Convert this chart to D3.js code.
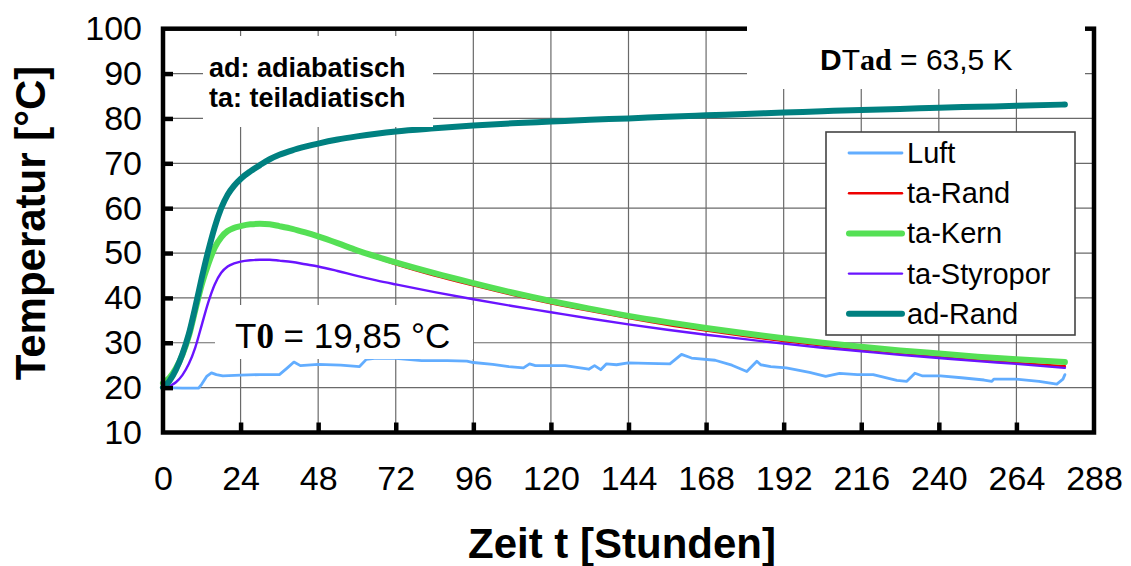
<!DOCTYPE html>
<html>
<head>
<meta charset="utf-8">
<script src="https://cdn.jsdelivr.net/npm/d3@7"></script>
<style>
  body { margin: 0; background: #fff; }
  svg { display: block; }
  text { font-family: "Liberation Sans", Arial, sans-serif; fill: #000; }
</style>
</head>
<body>
<svg id="chart" width="1131" height="566"></svg>
<script>
// Time axis of the smooth concrete-temperature curves (hours)
const hours = [0, 2, 4, 6, 8, 10, 12, 14, 16, 18, 20, 22, 24, 27, 30, 33, 36, 40, 44, 48,
  54, 60, 66, 72, 84, 96, 108, 120, 132, 144, 156, 168, 180, 192, 204, 216, 228, 240, 252, 264, 279];

// ad-Rand: adiabatic specimen, edge
const adRand = [20.0, 21.5, 24.0, 27.5, 32.0, 38.0, 44.5, 50.5, 55.8, 60.0, 63.0, 65.0, 66.5, 68.2, 69.6, 70.9, 71.9, 72.9, 73.7, 74.4,
  75.3, 76.0, 76.6, 77.1, 77.8, 78.4, 78.9, 79.3, 79.7, 80.0, 80.4, 80.7, 81.0, 81.3, 81.6, 81.9, 82.1, 82.4, 82.6, 82.8, 83.1];

// ta-Rand: semi-adiabatic specimen, edge
const taRand = [20.5, 21.8, 24.0, 27.0, 31.2, 37.0, 42.8, 47.3, 51.0, 53.4, 54.8, 55.5, 55.9, 56.3, 56.4, 56.3, 55.9, 55.2, 54.4, 53.5,
  52.0, 50.4, 48.9, 47.5, 45.0, 42.8, 40.7, 38.8, 37.1, 35.5, 34.0, 32.7, 31.5, 30.4, 29.4, 28.5, 27.7, 26.9, 26.2, 25.5, 24.8];

// ta-Kern: semi-adiabatic specimen, core
const taKern = [21.0, 22.2, 24.3, 27.3, 31.5, 37.3, 43.0, 47.5, 51.2, 53.5, 54.9, 55.6, 56.0, 56.4, 56.5, 56.4, 56.0, 55.4, 54.6, 53.7,
  52.2, 50.6, 49.2, 47.9, 45.5, 43.3, 41.2, 39.3, 37.6, 36.0, 34.6, 33.3, 32.1, 31.0, 30.0, 29.1, 28.3, 27.6, 26.9, 26.3, 25.7];

// ta-Styropor: semi-adiabatic specimen, polystyrene insulated
const taStyropor = [19.5, 20.3, 21.2, 22.8, 25.3, 29.0, 34.0, 39.0, 43.0, 45.6, 47.0, 47.7, 48.1, 48.4, 48.5, 48.5, 48.3, 48.0, 47.5, 47.0,
  46.0, 44.9, 43.9, 43.0, 41.3, 39.7, 38.2, 36.8, 35.4, 34.1, 32.9, 31.8, 30.8, 29.8, 28.9, 28.1, 27.3, 26.6, 25.9, 25.3, 24.4];

// Luft: ambient air temperature (own time stamps)
const luftHours = [0, 6, 11, 12, 13.5, 15, 16.5, 18.5, 24, 30, 36, 38.3, 40.5, 42.5, 48, 55, 60.8, 62.9, 66, 72,
  80, 88, 94, 96, 102, 107, 111.5, 113.4, 115.2, 124.4, 131.7, 133.5, 135.4, 137.2, 140.3, 143.9, 150, 156.8, 160.4, 163.5,
  170.8, 176, 180.6, 183.7, 184.9, 188, 192.8, 200, 205, 209.3, 214.8, 219.7, 227, 230.1, 232.6, 235, 240.5, 247, 254, 256.4,
  257, 263.7, 271, 276.5, 278.4, 279];
const luft = [20.0, 19.9, 19.9, 20.8, 22.5, 23.3, 22.9, 22.6, 22.8, 22.9, 22.9, 24.3, 25.7, 24.9, 25.2, 25.0, 24.7, 26.3, 26.6, 26.5,
  26.0, 26.0, 25.9, 25.6, 25.2, 24.7, 24.4, 25.3, 24.9, 24.9, 24.1, 24.9, 24.0, 25.3, 25.1, 25.5, 25.4, 25.3, 27.4, 26.6,
  26.1, 25.0, 23.6, 25.9, 25.1, 24.7, 24.4, 23.4, 22.5, 23.2, 22.9, 22.9, 21.6, 21.4, 23.2, 22.6, 22.6, 22.2, 21.7, 21.4,
  21.9, 21.9, 21.4, 20.8, 21.9, 22.9];

// Axis ticks
const xTicks = [0, 24, 48, 72, 96, 120, 144, 168, 192, 216, 240, 264, 288];
const yTicks = [10, 20, 30, 40, 50, 60, 70, 80, 90, 100];

// Legend order and styling
const seriesNames  = ["Luft", "ta-Rand", "ta-Kern", "ta-Styropor", "ad-Rand"];
const seriesColors = ["#62adff", "#ee0000", "#55e055", "#6a14ff", "#008080"];
const seriesWidths = [2.8, 2.4, 6, 2.4, 6];

const series = [
  { name: seriesNames[0], pts: luftHours.map((h, i) => [h, luft[i]]), smooth: false },
  { name: seriesNames[1], pts: hours.map((h, i) => [h, taRand[i]]), smooth: true },
  { name: seriesNames[2], pts: hours.map((h, i) => [h, taKern[i]]), smooth: true },
  { name: seriesNames[3], pts: hours.map((h, i) => [h, taStyropor[i]]), smooth: true },
  { name: seriesNames[4], pts: hours.map((h, i) => [h, adRand[i]]), smooth: true }
];

const svg = d3.select("#chart");
const x = d3.scaleLinear().domain([0, 288]).range([163, 1094]);
const y = d3.scaleLinear().domain([10, 100]).range([432.5, 28.7]);

// Grid
const grid = svg.append("g").attr("stroke", "#6a6a6a").attr("stroke-width", 1.2);
grid.selectAll(".gy").data(yTicks.slice(1, -1)).join("line")
  .attr("x1", x(0)).attr("x2", x(288)).attr("y1", d => y(d)).attr("y2", d => y(d));
grid.selectAll(".gx").data(xTicks.slice(1, -1)).join("line")
  .attr("y1", y(10)).attr("y2", y(100)).attr("x1", d => x(d)).attr("x2", d => x(d));

// Curves
const lineSmooth = d3.line().x(d => x(d[0])).y(d => y(d[1])).curve(d3.curveMonotoneX);
const lineRaw = d3.line().x(d => x(d[0])).y(d => y(d[1]));
series.forEach((s, i) => {
  svg.append("path")
    .attr("d", (s.smooth ? lineSmooth : lineRaw)(s.pts))
    .attr("fill", "none")
    .attr("stroke", seriesColors[i])
    .attr("stroke-width", seriesWidths[i])
    .attr("stroke-linejoin", "round")
    .attr("stroke-linecap", "round");
});

// Frame
svg.append("rect")
  .attr("x", x(0)).attr("y", y(100))
  .attr("width", x(288) - x(0)).attr("height", y(10) - y(100))
  .attr("fill", "none").attr("stroke", "#000").attr("stroke-width", 4.5);

// Axes
const xAxis = svg.append("g").attr("transform", `translate(0,${y(10)})`)
  .call(d3.axisBottom(x).tickValues(xTicks).tickSize(-10).tickPadding(33).tickFormat(d3.format("d")));
const yAxis = svg.append("g").attr("transform", `translate(${x(0)},0)`)
  .call(d3.axisLeft(y).tickValues(yTicks).tickSize(-10).tickPadding(21).tickFormat(d3.format("d")));
[xAxis, yAxis].forEach(a => {
  a.select(".domain").remove();
  a.selectAll(".tick line").attr("stroke", "#000").attr("stroke-width", 4.5);
  a.selectAll(".tick text").attr("font-size", 34).attr("font-family", "Liberation Sans, Arial, sans-serif");
});
xAxis.selectAll(".tick").filter(d => d === 0 || d === 288).select("line").remove();
yAxis.selectAll(".tick").filter(d => d === 10 || d === 100).select("line").remove();

// Axis titles
svg.append("text")
  .attr("x", 622).attr("y", 558)
  .attr("text-anchor", "middle").attr("font-size", 42).attr("font-weight", "bold")
  .text("Zeit t [Stunden]");
svg.append("text")
  .attr("transform", "translate(45,223) rotate(-90)")
  .attr("text-anchor", "middle").attr("font-size", 42).attr("font-weight", "bold")
  .text("Temperatur [°C]");

// Annotation: abbreviations
svg.append("rect").attr("x", 203).attr("y", 36).attr("width", 230).attr("height", 91).attr("fill", "#fff");
const abbr = svg.append("text").attr("font-size", 27).attr("font-weight", "bold");
abbr.append("tspan").attr("x", 209).attr("y", 77).text("ad: adiabatisch");
abbr.append("tspan").attr("x", 209).attr("y", 107).text("ta: teiladiatisch");

// Annotation: adiabatic temperature rise
svg.append("rect").attr("x", 747).attr("y", 18).attr("width", 338).attr("height", 71).attr("fill", "#fff");
const dt = svg.append("text").attr("x", 820).attr("y", 70).attr("font-size", 30);
dt.append("tspan").attr("font-weight", "bold").text("D");
dt.append("tspan").text("T");
dt.append("tspan").attr("font-family", "Liberation Serif, Times New Roman, serif").attr("font-weight", "bold").text("ad");
dt.append("tspan").text(" = 63,5 K");

// Annotation: initial temperature
svg.append("rect").attr("x", 215).attr("y", 305).attr("width", 258).attr("height", 54).attr("fill", "#fff");
const t0 = svg.append("text").attr("x", 235).attr("y", 348).attr("font-size", 35);
t0.append("tspan").text("T");
t0.append("tspan").attr("font-family", "Liberation Serif, Times New Roman, serif").attr("font-weight", "bold").text("0");
t0.append("tspan").text(" = 19,85 °C");

// Legend
const lg = svg.append("g");
lg.append("rect").attr("x", 826).attr("y", 132).attr("width", 249).attr("height", 203)
  .attr("fill", "#fff").attr("stroke", "#444").attr("stroke-width", 1.6);
seriesNames.forEach((n, i) => {
  const cy = 153 + i * 40.2;
  lg.append("line").attr("x1", 849).attr("x2", 902).attr("y1", cy).attr("y2", cy)
    .attr("stroke", seriesColors[i]).attr("stroke-width", seriesWidths[i]).attr("stroke-linecap", "round");
  lg.append("text").attr("x", 907).attr("y", cy + 10).attr("font-size", 29).text(n);
});
</script>
</body>
</html>
